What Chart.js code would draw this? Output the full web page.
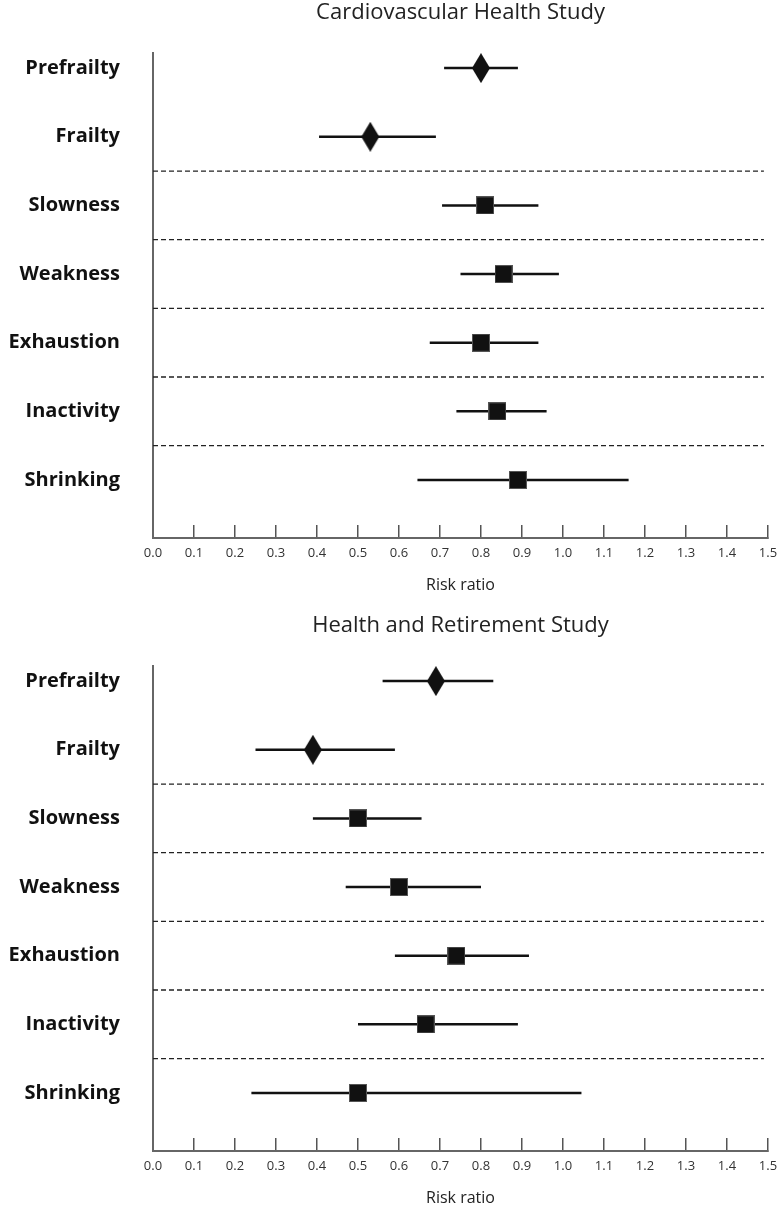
<!DOCTYPE html>
<html>
<head>
<meta charset="utf-8">
<script src="https://cdn.jsdelivr.net/npm/chart.js@4/dist/chart.umd.min.js"></script>
<style>
  body { margin: 0; background: #fff; overflow: hidden; }
  .plot { position: absolute; left: 0; width: 783px; height: 600px; }
  #chs_wrap { top: 0; }
  #hrs_wrap { top: 613px; }
</style>
</head>
<body>
<div class="plot" id="chs_wrap"><canvas id="chs_chart" width="783" height="600"></canvas></div>
<div class="plot" id="hrs_wrap"><canvas id="hrs_chart" width="783" height="600"></canvas></div>
<script>
const categories = ["Prefrailty", "Frailty", "Slowness", "Weakness", "Exhaustion", "Inactivity", "Shrinking"];
const xTickLabels = ["0.0", "0.1", "0.2", "0.3", "0.4", "0.5", "0.6", "0.7", "0.8", "0.9", "1.0", "1.1", "1.2", "1.3", "1.4", "1.5"];
const dividerRows = [1.5, 2.5, 3.5, 4.5, 5.5];

// Cardiovascular Health Study
const chsRatio = [0.80, 0.53, 0.81, 0.855, 0.80, 0.84, 0.89];
const chsLower = [0.71, 0.405, 0.705, 0.75, 0.675, 0.74, 0.645];
const chsUpper = [0.89, 0.69, 0.94, 0.99, 0.94, 0.96, 1.16];

// Health and Retirement Study
const hrsRatio = [0.69, 0.39, 0.50, 0.60, 0.74, 0.665, 0.50];
const hrsLower = [0.56, 0.25, 0.39, 0.47, 0.59, 0.50, 0.24];
const hrsUpper = [0.83, 0.59, 0.655, 0.80, 0.917, 0.89, 1.045];

const ink = "#111";
const axisGrey = "#666";

function markerImage(w, h, diamond) {
  const c = document.createElement("canvas");
  c.width = w;
  c.height = h;
  const g = c.getContext("2d");
  g.fillStyle = ink;
  g.strokeStyle = "#555";
  g.lineWidth = 1;
  if (diamond) {
    g.beginPath();
    g.moveTo(w / 2, 0);
    g.lineTo(w, h / 2);
    g.lineTo(w / 2, h);
    g.lineTo(0, h / 2);
    g.closePath();
    g.fill();
  } else {
    g.fillRect(0, 0, w, h);
    g.strokeRect(0.5, 0.5, w - 1, h - 1);
  }
  return c;
}

const diamondImg = markerImage(18, 30, true);
const squareImg = markerImage(18, 18, false);

function makeChart(id, title, ratio, lower, upper) {
  const bars = [];
  categories.forEach((c, i) => {
    bars.push({ x: lower[i], y: i }, { x: upper[i], y: i }, { x: upper[i], y: null });
  });
  const dividers = [];
  dividerRows.forEach((d) => {
    dividers.push({ x: 0, y: d }, { x: 1.49, y: d }, { x: 1.49, y: null });
  });

  new Chart(document.getElementById(id).getContext("2d"), {
    type: "scatter",
    data: {
      datasets: [
        {
          label: "Risk ratio",
          data: ratio.map((v, i) => ({ x: v, y: i })),
          pointStyle: (ctx) => (ctx.dataIndex < 2 ? diamondImg : squareImg),
          pointRadius: 9,
        },
        {
          label: "95% CI",
          data: bars,
          showLine: true,
          spanGaps: false,
          borderColor: ink,
          borderWidth: 2.5,
          pointRadius: 0,
        },
        {
          label: "dividers",
          data: dividers,
          showLine: true,
          spanGaps: false,
          borderColor: "#222",
          borderWidth: 1.3,
          borderDash: [5, 3],
          pointRadius: 0,
        },
      ],
    },
    options: {
      responsive: false,
      devicePixelRatio: 1,
      animation: false,
      events: [],
      layout: { padding: { left: 0, right: 15, top: 0, bottom: 0 } },
      plugins: {
        legend: { display: false },
        tooltip: { enabled: false },
      },
      scales: {
        x: {
          type: "linear",
          position: "bottom",
          min: 0,
          max: 1.5,
          afterBuildTicks: (scale) => {
            scale.ticks = xTickLabels.map((t) => ({ value: parseFloat(t) }));
          },
          afterFit: (scale) => {
            scale.height = 62;
            scale.paddingLeft = 0;
            scale.paddingRight = 10;
          },
          ticks: {
            autoSkip: false,
            maxRotation: 0,
            padding: 20,
            color: "#333",
            font: { family: "Open Sans", size: 13 },
            callback: (v, i) => xTickLabels[i],
          },
          grid: { display: true, drawOnChartArea: false, drawTicks: true, tickLength: -13, color: "#555", lineWidth: 1.5 },
          border: { display: true, color: axisGrey, width: 2 },
          title: {
            display: true,
            text: "Risk ratio",
            color: "#222",
            font: { family: "Open Sans", size: 16 },
            padding: { top: 0, bottom: 5 },
          },
        },
        xt: {
          type: "linear",
          position: "top",
          min: 0,
          max: 1.5,
          afterFit: (scale) => {
            scale.height = 53;
            scale.paddingLeft = 0;
            scale.paddingRight = 0;
          },
          ticks: { display: false },
          grid: { display: false },
          border: { display: false },
          title: {
            display: true,
            text: title,
            color: "#222",
            font: { family: "Open Sans", size: 22 },
            padding: { top: 0, bottom: 0 },
          },
        },
        y: {
          type: "linear",
          reverse: true,
          min: -0.22,
          max: 6.845,
          afterBuildTicks: (scale) => {
            scale.ticks = categories.map((c, i) => ({ value: i }));
          },
          afterFit: (scale) => { scale.width = 153; },
          ticks: {
            padding: 33,
            color: ink,
            font: { family: "Open Sans", size: 20, weight: "bold" },
            callback: (v, i) => categories[i],
          },
          grid: { display: false, drawTicks: false },
          border: { display: true, color: axisGrey, width: 2 },
        },
      },
    },
  });
}

makeChart("chs_chart", "Cardiovascular Health Study", chsRatio, chsLower, chsUpper);
makeChart("hrs_chart", "Health and Retirement Study", hrsRatio, hrsLower, hrsUpper);
</script>
</body>
</html>
